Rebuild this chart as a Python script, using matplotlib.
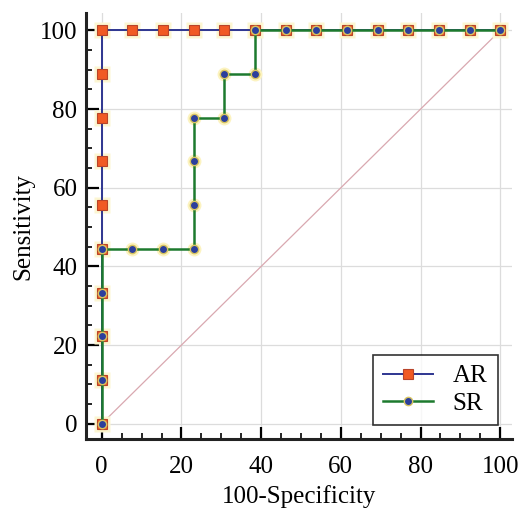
import numpy as np
import matplotlib.pyplot as plt

plt.rcParams['font.family'] = ['Liberation Serif', 'DejaVu Serif']

# 100-Specificity steps (13 negatives) and sensitivity steps (9 positives)
ar_x = [0, 0, 0, 0, 0, 0, 0, 0, 0, 0,
        7.7, 15.4, 23.1, 30.8, 38.5, 46.2, 53.8, 61.5, 69.2, 76.9, 84.6, 92.3, 100]
ar_y = [0, 11.1, 22.2, 33.3, 44.4, 55.6, 66.7, 77.8, 88.9, 100,
        100, 100, 100, 100, 100, 100, 100, 100, 100, 100, 100, 100, 100]

sr_x = [0, 0, 0, 0, 0, 7.7, 15.4, 23.1, 23.1, 23.1, 23.1, 30.8, 30.8, 38.5, 38.5,
        46.2, 53.8, 61.5, 69.2, 76.9, 84.6, 92.3, 100]
sr_y = [0, 11.1, 22.2, 33.3, 44.4, 44.4, 44.4, 44.4, 55.6, 66.7, 77.8, 77.8, 88.9, 88.9, 100,
        100, 100, 100, 100, 100, 100, 100, 100]

fig, ax = plt.subplots(figsize=(5.2, 5.11), dpi=100)
fig.subplots_adjust(left=0.165, right=0.985, top=0.975, bottom=0.14)

ax.plot([0, 100], [0, 100], color='#d9a8b0', lw=0.9, zorder=1)

# faint yellow glow behind markers
ax.plot(ar_x, ar_y, ls='none', marker='s', ms=11, mfc='#fcf6d2', mec='none', zorder=2)
ax.plot(sr_x, sr_y, ls='none', marker='o', ms=10, mfc='#fcf3c0', mec='none', zorder=2)

ax.plot(ar_x, ar_y, color='#2e3590', lw=1.4, marker='s', ms=7,
        mfc='#f15a24', mec='#b8442a', mew=0.8, label='AR', zorder=3)
ax.plot(sr_x, sr_y, color='#1d7a2e', lw=1.8, marker='o', ms=6,
        mfc='#2c3f9c', mec='#d8c460', mew=1.0, label='SR', zorder=4)

ax.set_xlim(-4, 103)
ax.set_ylim(-4, 104.5)
ax.set_xticks(np.arange(0, 101, 20))
ax.set_yticks(np.arange(0, 101, 20))
ax.set_xticks(np.arange(0, 101, 5), minor=True)
ax.set_yticks(np.arange(0, 101, 5), minor=True)
ax.grid(True, which='major', color='#dcdcdc', lw=0.9)
ax.set_axisbelow(True)

for s in ['top', 'right']:
    ax.spines[s].set_visible(False)
for s in ['left', 'bottom']:
    ax.spines[s].set_linewidth(2.2)
    ax.spines[s].set_color('#222222')

ax.tick_params(which='major', direction='in', length=9, width=1.6, labelsize=18)
ax.tick_params(which='minor', direction='in', length=4.5, width=1.2)
ax.tick_params(axis='x', pad=12)
ax.tick_params(axis='y', pad=6)

ax.set_xlabel('100-Specificity', fontsize=18, labelpad=5)
ax.set_ylabel('Sensitivity', fontsize=18, labelpad=4)

leg = ax.legend(loc='lower right', fontsize=18, frameon=True, fancybox=False,
                edgecolor='black', handlelength=2.0, borderpad=0.4,
                labelspacing=0.2, bbox_to_anchor=(0.995, 0.005))
leg.get_frame().set_linewidth(1.2)

fig.savefig('out.png', dpi=100)
